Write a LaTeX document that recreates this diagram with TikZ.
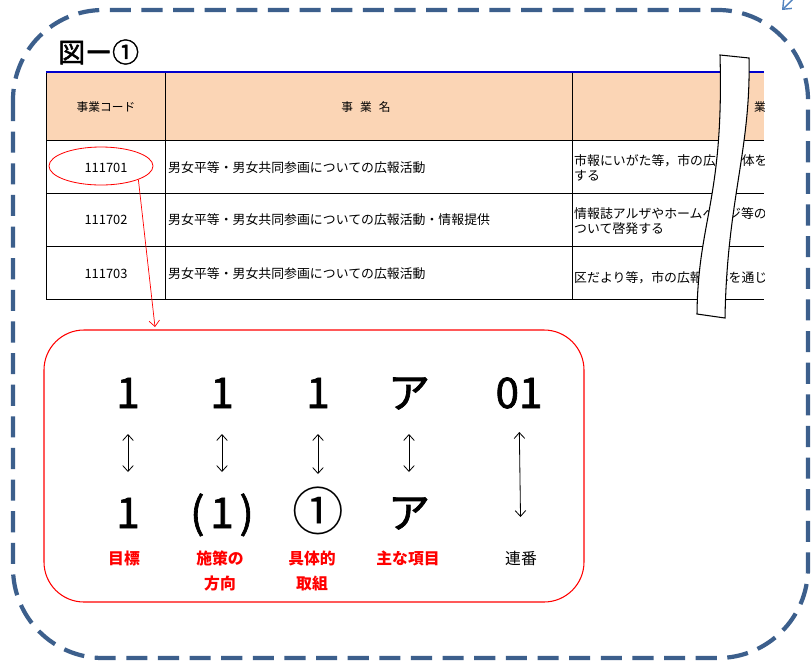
\documentclass[tikz,border=0pt]{standalone}
\usepackage{fontspec}
\setmainfont{Noto Sans CJK JP}
\newfontfamily\midfont[FakeBold = 1.6]{Noto Sans CJK JP}
\usetikzlibrary{shapes.geometric, arrows.meta}

\definecolor{frameblue}{RGB}{60,95,140}
\definecolor{headfill}{RGB}{251,213,181}
\definecolor{linkblue}{RGB}{80,130,190}

\begin{document}
\begin{tikzpicture}[x = 0.03cm, y = -0.03cm, > = {Straight Barb[length = 5pt, width = 9pt]},
	cell/.style = {inner sep = 0pt, font = \fontsize{11pt}{12.8pt}\selectfont},
	head/.style = {inner sep = 0pt, font = \fontsize{10pt}{12pt}\selectfont},
	big/.style = {inner sep = 0pt, anchor = base, font = \midfont\fontsize{36pt}{40pt}\selectfont},
	tag/.style = {inner sep = 0pt, anchor = north, align = center, text = red, font = \bfseries\fontsize{13.5pt}{21pt}\selectfont},
	updown/.style = {<->, line width = 0.7pt, shorten < = 0.78cm, shorten > = 1.68cm}]

	% Page
	
	\fill [white] (0, 0) rectangle (811, 664);
	\useasboundingbox (0, 0) rectangle (811, 664);

	% Title
	
	\node [anchor = west, inner sep = 0pt, font = \midfont\fontsize{23pt}{25pt}\selectfont] (title) at (58, 52) {図ー①};

	% Table (cut off on the right)
	
	\begin{scope}
		\clip (40, 60) rectangle (764, 305);
		\fill [headfill] (46, 72) rectangle (764, 140);
		\foreach \y in {140, 193, 246, 299}
			\draw [line width = 0.8pt] (46, \y) -- (764, \y);
		\foreach \x in {46, 165, 572}
			\draw [line width = 0.8pt] (\x, 72) -- (\x, 299);
		\draw [blue!80!black, line width = 1.6pt] (46, 72) -- (764, 72);

		\node [head] (hcode) at (106, 107) {事業コード};
		\node [head] (hname) at (366, 107) {事\hspace{6pt}業\hspace{6pt}名};
		\node [head, anchor = west] (hsum) at (754, 107) {業};

		\node [cell] (c1) at (106, 168) {111701};
		\node [cell] (c2) at (106, 220) {111702};
		\node [cell] (c3) at (106, 274) {111703};

		\node [cell, anchor = west] (n1) at (168, 168) {男女平等・男女共同参画についての広報活動};
		\node [cell, anchor = west] (n2) at (168, 220) {男女平等・男女共同参画についての広報活動・情報提供};
		\node [cell, anchor = west] (n3) at (168, 274) {男女平等・男女共同参画についての広報活動};

		\node [cell, anchor = west, align = left] (s1) at (574, 168) {市報にいがた等，市の広報媒体を\\する};
		\node [cell, anchor = west, align = left] (s2) at (574, 221) {情報誌アルザやホームページ等の\\ついて啓発する};
		\node [cell, anchor = west] (s3) at (574, 278) {区だより等，市の広報媒体を通じ};
	\end{scope}

	% Break band
	
	\draw [fill = white, line width = 0.9pt] (720, 55) -- (749, 58)
		.. controls (751, 150) and (727, 200) .. (725, 318)
		-- (697, 314)
		.. controls (698, 220) and (724, 200) .. (720, 55) -- cycle;

	% Marked code + pointer
	
	\node [ellipse, draw = red, line width = 0.7pt, minimum width = 3.12cm, minimum height = 1.14cm, inner sep = 0pt] (mark) at (101, 166) {};
	\coordinate (tip) at (155, 327);
	\draw [red, ->, line width = 0.6pt] (mark.-20) -- (tip);

	% Breakdown box
	
	\draw [red, line width = 0.9pt, rounded corners = 1.2cm] (44, 330) rectangle (584, 602);

	\node [big] (t1) at (128, 408) {1};
	\node [big] (t2) at (222, 408) {1};
	\node [big] (t3) at (318, 408) {1};
	\node [big] (t4) at (409, 408) {ア};
	\node [big] (t5) at (519, 408) {01};

	\node [big] (b1) at (128, 528) {1};
	\node [big] (b2) at (222, 528) {(\hspace{5pt}1\hspace{5pt})};
	\node [big, font = \fontsize{44pt}{48pt}\selectfont] (b3) at (318, 530) {①};
	\node [big] (b4) at (409, 528) {ア};

	\node [tag] (l1) at (124, 551) {目標};
	\node [tag] (l2) at (220, 551) {施策の\\方向};
	\node [tag] (l3) at (312, 551) {具体的\\取組};
	\node [tag] (l4) at (408, 551) {主な項目};
	\node [tag, text = black, font = \fontsize{13.5pt}{21pt}\selectfont] (l5) at (521, 551) {連番};

	\foreach \i in {1, ..., 4}
		\draw [updown] (t\i.base) -- (b\i.base);
	\draw [<->, line width = 0.7pt, shorten < = 0.72cm, shorten > = 1.02cm] (t5.base) -- (l5.north);

	% Dashed frame
	
	\draw [frameblue, line width = 3.6pt, dash pattern = on 18pt off 9pt, rounded corners = 2.7cm] (13, 10) rectangle (808, 658);
	\draw [linkblue, -{Straight Barb[length = 6pt, width = 10pt]}, line width = 1.2pt] (800, -8) -- (782, 10);
	
\end{tikzpicture}
\end{document}
